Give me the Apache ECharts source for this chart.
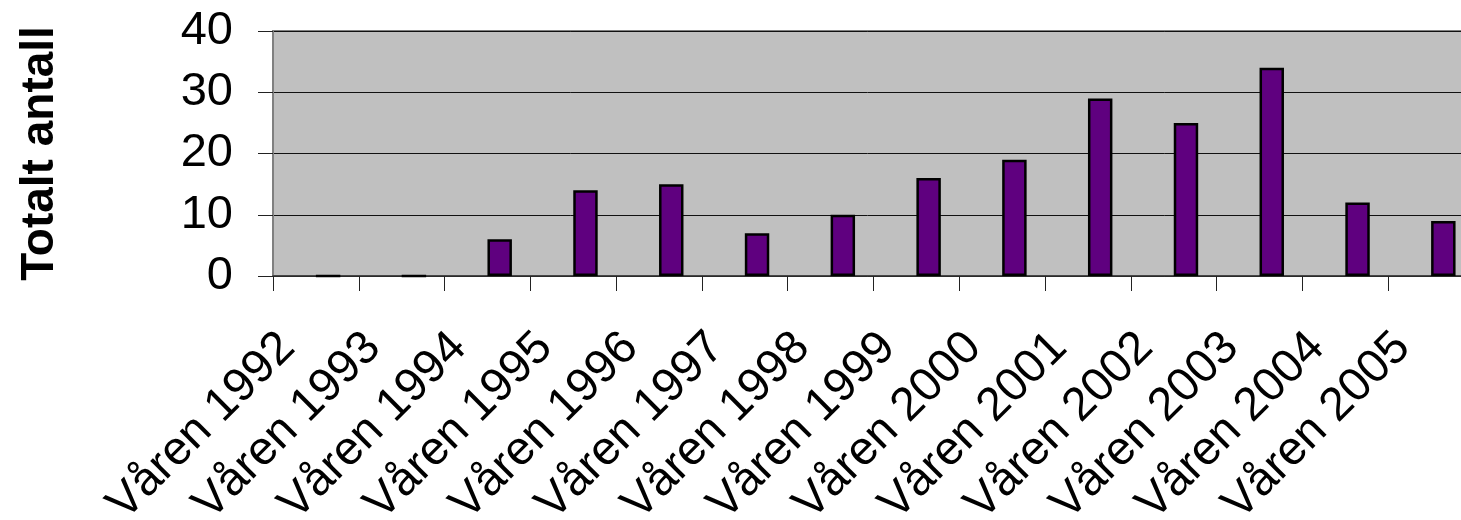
<!DOCTYPE html>
<html>
<head>
<meta charset="utf-8">
<script src="https://cdn.jsdelivr.net/npm/echarts@6/dist/echarts.min.js"></script>
<style>
  html, body { margin: 0; padding: 0; background: #fff; }
  #chart { width: 1461px; height: 520px; }
</style>
</head>
<body>
<div id="chart"></div>
<script>
// kategorier (x-aksen)
const categories = [
  "Våren 1992", "Våren 1993", "Våren 1994", "Våren 1995", "Våren 1996",
  "Våren 1997", "Våren 1998", "Våren 1999", "Våren 2000", "Våren 2001",
  "Våren 2002", "Våren 2003", "Våren 2004", "Våren 2005"
];
// tom første serie (gir søylene plass til høyre i hver kategori)
const emptySeries = [null, null, null, null, null, null, null, null, null, null, null, null, null, null];
// totalt antall
const totals = [0, 0, 6, 14, 15, 7, 10, 16, 19, 29, 25, 34, 12, 9];
// y-aksen
const yMin = 0;
const yMax = 40;
const yStep = 10;
const yTitle = "Totalt antall";

const font = "'Liberation Sans', Arial, sans-serif";

var myChart = echarts.init(document.getElementById("chart"));
myChart.setOption({
  animation: false,
  grid: {
    left: 273,
    top: 31,
    width: 1201,
    height: 245,
    outerBoundsMode: "none",
    containLabel: false,
    show: true,
    backgroundColor: "#c0c0c0",
    borderColor: "#808080",
    borderWidth: 2
  },
  xAxis: {
    type: "category",
    data: categories,
    boundaryGap: true,
    axisLine: { show: true, lineStyle: { color: "#333", width: 1.5 } },
    axisTick: { show: true, length: 15, lineStyle: { color: "#222", width: 1 } },
    axisLabel: {
      interval: 0,
      rotate: 45,
      margin: 36,
      padding: [0, 40, 0, 0],
      fontFamily: font,
      fontSize: 47,
      color: "#000"
    },
    splitLine: { show: false }
  },
  yAxis: {
    type: "value",
    min: yMin,
    max: yMax,
    interval: yStep,
    name: yTitle,
    nameLocation: "middle",
    nameRotate: 90,
    nameGap: 210,
    nameTextStyle: {
      fontFamily: font,
      fontSize: 46,
      fontWeight: "bold",
      color: "#000"
    },
    axisLine: { show: true, lineStyle: { color: "#808080", width: 2 } },
    axisTick: { show: true, length: 15, lineStyle: { color: "#222", width: 1 } },
    axisLabel: {
      margin: 40,
      fontFamily: font,
      fontSize: 47,
      color: "#000"
    },
    splitLine: { show: true, lineStyle: { color: "#111", width: 1 } }
  },
  series: [
    {
      type: "bar",
      data: emptySeries,
      barGap: "0%",
      barCategoryGap: "43%"
    },
    {
      type: "bar",
      data: totals,
      barGap: "0%",
      barCategoryGap: "43%",
      itemStyle: {
        color: "#5f007f",
        borderColor: "#000",
        borderWidth: 2.5
      }
    }
  ]
});
</script>
</body>
</html>
